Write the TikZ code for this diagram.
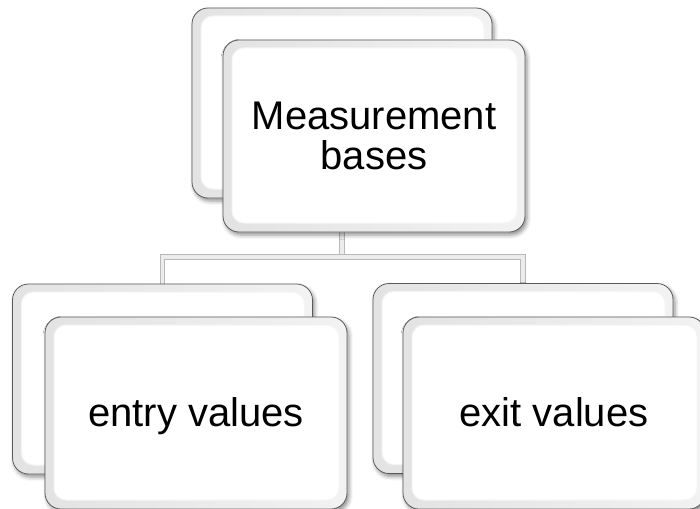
\documentclass[tikz,border=0pt]{standalone}
\usepackage{fontspec}
\setmainfont{Liberation Sans}
\usetikzlibrary{shadows.blur,backgrounds}
\tikzset{
  card/.style={
    draw=black!65, line width=0.8pt, rounded corners=16pt, fill=white,
    minimum width=300pt, minimum height=190pt, inner sep=0pt,
    blur shadow={shadow xshift=2pt, shadow yshift=-3pt,
                 shadow blur radius=4pt, shadow opacity=45},
    path picture={
      \fill[left color=gray!22, right color=gray!10]
        (path picture bounding box.south west)
        rectangle (path picture bounding box.north east);
      \fill[white, draw=gray!8, line width=1pt, rounded corners=12pt]
        ([shift={(9pt,9pt)}]path picture bounding box.south west)
        rectangle ([shift={(-8pt,-8pt)}]path picture bounding box.north east);
    }},
  cardtext/.style={font=\fontsize{40}{40}\selectfont, align=center, text=black},
  link/.style={draw=gray!55, line width=0.9pt, double=gray!15,
               double distance=3.5pt, line join=miter}
}
\begin{document}
\begin{tikzpicture}[x=1pt, y=-1pt]
  \useasboundingbox (0,0) rectangle (700,508);
  \clip (0,0) rectangle (700,508);

  % rear cards
  \node[card] (tb) at (342,103) {};
  \node[card] (lb) at (162.5,379) {};
  \node[card] (rb) at (523,378.5) {};

  % front cards with the labels
  \node[card, cardtext, minimum width=302pt, minimum height=192pt]
    (tf) at (374,136) {Measurement\\bases};
  \node[card, cardtext, minimum width=302pt, minimum height=192pt,
        text depth=1pt] (lf) at (196,413) {entry values};
  \node[card, cardtext, minimum width=302pt, minimum height=192pt,
        text depth=1pt] (rf) at (554,413) {exit values};

  % tree connectors behind the cards
  \coordinate (hub) at (342,257);
  \begin{scope}[on background layer]
    \draw[link] (tb.south) -- (hub);
    \draw[link] (lb.north) |- (hub) -| (rb.north);
  \end{scope}
\end{tikzpicture}
\end{document}
